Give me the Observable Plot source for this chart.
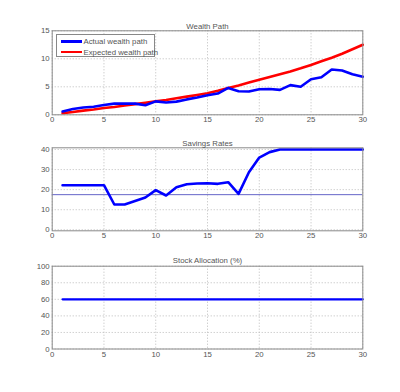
<!DOCTYPE html>
<html>
<head>
<meta charset="utf-8">
<script src="https://cdn.jsdelivr.net/npm/d3@7"></script>
<script src="https://cdn.jsdelivr.net/npm/@observablehq/plot@0.6"></script>
<style>
  html, body { margin: 0; padding: 0; background: #fff; }
  #wrap { position: relative; width: 400px; height: 392px; font-family: "Liberation Sans", Arial, sans-serif; }
  #wrap svg { position: absolute; left: 0; }
  .legend { position: absolute; left: 55.5px; top: 33.5px; width: 99px; height: 23px; border: 1px solid #888; background: #fff; box-sizing: border-box; font-size: 7.8px; color: #555; }
  .legend .row { position: absolute; left: 4px; height: 8px; display: flex; align-items: center; white-space: nowrap; }
  .legend .sw { width: 21px; height: 2.5px; margin-right: 2px; flex: none; }
</style>
</head>
<body>
<div id="wrap"></div>
<script>
const years = [1,2,3,4,5,6,7,8,9,10,11,12,13,14,15,16,17,18,19,20,21,22,23,24,25,26,27,28,29,30];
const actualWealth = [0.6,1.05,1.3,1.45,1.75,2.0,2.0,2.0,1.7,2.4,2.2,2.35,2.75,3.1,3.5,3.8,4.8,4.2,4.15,4.55,4.6,4.45,5.3,5.0,6.35,6.7,8.1,7.9,7.25,6.8];
const expectedWealth = [0.3,0.5,0.75,0.95,1.2,1.4,1.65,1.9,2.15,2.4,2.65,2.95,3.25,3.55,3.85,4.3,4.8,5.25,5.75,6.25,6.75,7.25,7.75,8.3,8.9,9.55,10.2,10.9,11.7,12.5];
const savingsRate = [22.2,22.2,22.2,22.2,22.2,12.6,12.6,14.3,16.1,19.75,17.1,21.2,22.7,23.1,23.2,22.9,23.7,17.9,28.7,36,38.7,40,40,40,40,40,40,40,40,40];
const savingsRef = 17.5;
const stockAllocation = [60,60,60,60,60,60,60,60,60,60,60,60,60,60,60,60,60,60,60,60,60,60,60,60,60,60,60,60,60,60];
const xTicks = [0,5,10,15,20,25,30];
const wealthTicks = [0,5,10,15];
const savingsTicks = [0,10,20,30,40];
const allocTicks = [0,20,40,60,80,100];
const titles = ["Wealth Path", "Savings Rates", "Stock Allocation (%)"];
const legendLabels = ["Actual wealth path", "Expected wealth path"];

const BLUE = "#0000ff", RED = "#ff0000", GRID = "#bbbbbb", TXT = "#555";

const wealth = years.map((x, i) => ({x, a: actualWealth[i], e: expectedWealth[i]}));
const savings = years.map((x, i) => ({x, s: savingsRate[i]}));
const alloc = years.map((x, i) => ({x, v: stockAllocation[i]}));

function panel({height, marginTop, marginBottom, yDomain, yTicks, title, titleDy, marks}) {
  return Plot.plot({
    width: 400, height, marginLeft: 51.7, marginRight: 37.7, marginTop, marginBottom,
    style: {fontFamily: "Liberation Sans, Arial, sans-serif", fontSize: "7.8px", color: TXT, background: "transparent", overflow: "visible"},
    x: {domain: [0, 30]},
    y: {domain: yDomain},
    marks: [
      Plot.gridX(xTicks, {stroke: GRID, strokeOpacity: 1, strokeDasharray: "1,2"}),
      Plot.gridY(yTicks, {stroke: GRID, strokeOpacity: 1, strokeDasharray: "1,2"}),
      ...marks,
      Plot.frame({stroke: "#8a8a8a"}),
      Plot.axisX(xTicks, {tickSize: 0, tickPadding: 2, label: null, fill: TXT}),
      Plot.axisY(yTicks, {tickSize: 0, tickPadding: 2.5, label: null, fill: TXT}),
      Plot.text([title], {frameAnchor: "top", dy: titleDy, fill: TXT, fontSize: 7.8})
    ]
  });
}

const wrap = document.getElementById("wrap");

const p1 = panel({
  height: 130, marginTop: 30.3, marginBottom: 15.7, yDomain: [0, 15], yTicks: wealthTicks,
  title: titles[0], titleDy: -7.5,
  marks: [
    Plot.line(wealth, {x: "x", y: "e", stroke: RED, strokeWidth: 2.6}),
    Plot.line(wealth, {x: "x", y: "a", stroke: BLUE, strokeWidth: 2.6})
  ]
});
p1.style.top = "0px";
wrap.appendChild(p1);

const p2 = panel({
  height: 115, marginTop: 17.3, marginBottom: 14.7, yDomain: [-0.5, 40.85], yTicks: savingsTicks,
  title: titles[1], titleDy: -7.3,
  marks: [
    Plot.ruleY([savingsRef], {stroke: "#6464c8", strokeWidth: 1}),
    Plot.line(savings, {x: "x", y: "s", stroke: BLUE, strokeWidth: 2.6})
  ]
});
p2.style.top = "130px";
wrap.appendChild(p2);

const p3 = panel({
  height: 147, marginTop: 20.7, marginBottom: 43.5, yDomain: [0, 100], yTicks: allocTicks,
  title: titles[2], titleDy: -8.4,
  marks: [
    Plot.line(alloc, {x: "x", y: "v", stroke: BLUE, strokeWidth: 2.2})
  ]
});
p3.style.top = "245px";
wrap.appendChild(p3);

// legend
const leg = document.createElement("div");
leg.className = "legend";
[[BLUE, legendLabels[0], 2.8], [RED, legendLabels[1], 13.5]].forEach(([c, t, top]) => {
  const r = document.createElement("div");
  r.className = "row";
  r.style.top = top + "px";
  const sw = document.createElement("div");
  sw.className = "sw";
  sw.style.background = c;
  const tx = document.createElement("span");
  tx.textContent = t;
  r.appendChild(sw); r.appendChild(tx);
  leg.appendChild(r);
});
wrap.appendChild(leg);
</script>
</body>
</html>
